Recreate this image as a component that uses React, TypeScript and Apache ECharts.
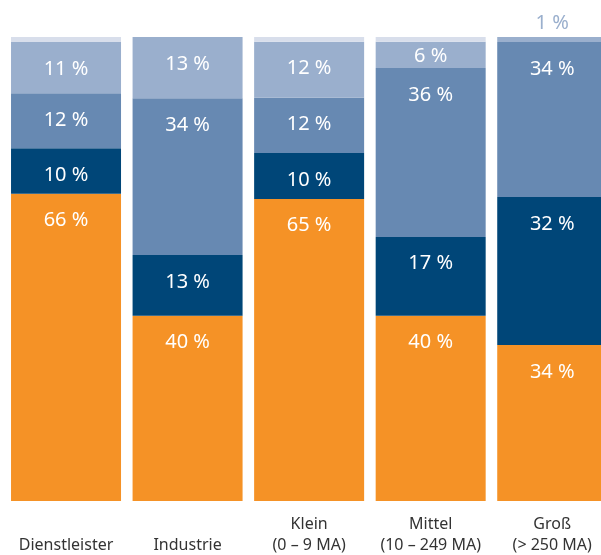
import React, { useEffect, useRef } from "react";
import * as echarts from "echarts";

const categories = ["Dienstleister", "Industrie", "Klein\n(0 – 9 MA)", "Mittel\n(10 – 249 MA)", "Groß\n(> 250 MA)"];

// values (percent of each bar)
const orangeValues = [66.2, 39.9, 65.1, 39.9, 33.6];
const darkValues = [9.8, 13.1, 9.9, 17.0, 31.9];
const mediumValues = [11.9, 33.8, 11.9, 36.4, 33.4];
const lightValues = [11.0, 13.2, 12.1, 5.7, 1.1];
const restValues = [1.1, 0, 1.0, 1.0, 0];

// printed labels
const orangeLabels = ["66 %", "40 %", "65 %", "40 %", "34 %"];
const darkLabels = ["10 %", "13 %", "10 %", "17 %", "32 %"];
const mediumLabels = ["12 %", "34 %", "12 %", "36 %", "34 %"];
const lightLabels = ["11 %", "13 %", "12 %", "6 %", "1 %"];

const FONT = "'Noto Sans', sans-serif";

export default function App() {
  const ref = useRef<HTMLDivElement>(null);

  useEffect(() => {
    if (!ref.current) return;
    const chart = echarts.init(ref.current, undefined, { renderer: "svg" });

    const baseLabel = {
      show: true,
      position: "insideTop",
      distance: 15,
      color: "#ffffff",
      fontSize: 20,
      fontFamily: FONT,
    };

    const mk = (name: string, values: number[], labels: string[] | null, color: string) => ({
      name,
      type: "bar",
      stack: "total",
      barWidth: 110,
      itemStyle: { color },
      data: values.map((v, i) => {
        const d: any = { value: v };
        if (!labels) return d;
        d.label = { ...baseLabel, formatter: labels[i] };
        if (name === "light" && v < 8 && v > 3) {
          d.label = { ...d.label, position: "inside", distance: 0 };
        }
        if (name === "light" && v <= 3) {
          d.label = { ...d.label, position: "top", distance: 6, color: "#9aafcd" };
        }
        return d;
      }),
      label: labels ? baseLabel : { show: false },
    });

    chart.setOption({
      animation: false,
      grid: { left: 5.25, right: 0, top: 37, bottom: 54, containLabel: false },
      xAxis: {
        type: "category",
        data: categories,
        axisLine: { show: false },
        axisTick: { show: false },
        axisLabel: {
          color: "#333333",
          fontSize: 16,
          lineHeight: 21,
          fontFamily: FONT,
          verticalAlign: "bottom",
          margin: 53,
          interval: 0,
        },
      },
      yAxis: {
        type: "value",
        min: 0,
        max: 100,
        show: false,
        splitLine: { show: false },
      },
      series: [
        mk("orange", orangeValues, orangeLabels, "#f59226"),
        mk("dark", darkValues, darkLabels, "#004678"),
        mk("medium", mediumValues, mediumLabels, "#6789b2"),
        mk("light", lightValues, lightLabels, "#9aafcd"),
        mk("rest", restValues, null, "#d8deeb"),
      ],
    });

    return () => chart.dispose();
  }, []);

  return (
    <div
      ref={ref}
      style={{ position: "fixed", left: 0, top: 0, width: 612.75, height: 555 }}
    />
  );
}
